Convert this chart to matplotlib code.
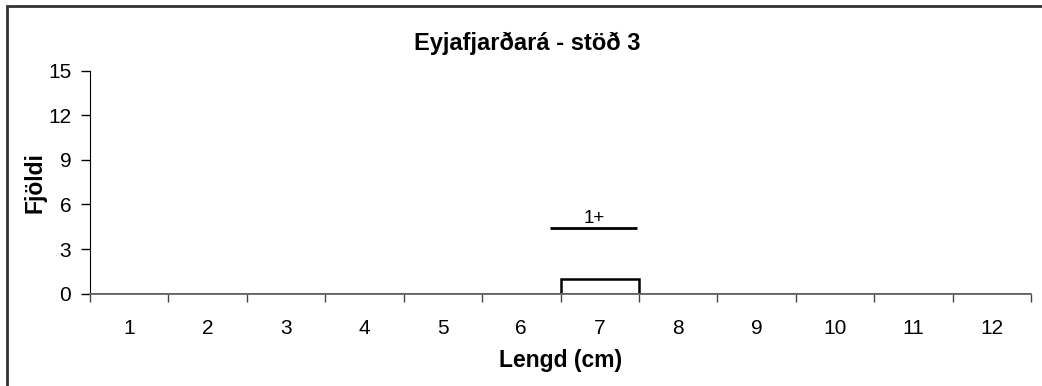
import matplotlib
matplotlib.use("Agg")
import matplotlib.pyplot as plt
from matplotlib.patches import Rectangle

plt.rcParams['font.family'] = ['Liberation Sans', 'DejaVu Sans']

# Length classes (cm) and fish counts
lengths = [1, 2, 3, 4, 5, 6, 7, 8, 9, 10, 11, 12]
counts = [0, 0, 0, 0, 0, 0, 1, 0, 0, 0, 0, 0]

# Age-group marker: span along the length axis and its height
age_label = "1+"
age_span = [6.37, 7.48]
age_level = 4.4

W, H = 1042, 386
fig = plt.figure(figsize=(W / 100, H / 100), dpi=100)
fig.patch.set_facecolor("white")

# Chart-area frame
fig.add_artist(Rectangle((6.5 / W, -0.05), 1.2, 1 - 5.5 / H + 0.05,
                         transform=fig.transFigure, fill=False,
                         edgecolor="#333333", linewidth=2.0))

left, right, top, bottom = 90, 1031, 70.7, 293.7
ax = fig.add_axes([left / W, 1 - bottom / H, (right - left) / W, (bottom - top) / H])

x = list(range(len(lengths)))
ax.bar(x, counts, width=1.0, facecolor="white", edgecolor="black", linewidth=1.8)

ax.set_xlim(-0.5, len(lengths) - 0.5)
ax.set_ylim(0, 15)
ax.set_yticks([0, 3, 6, 9, 12, 15])
ax.set_xticks(x)
ax.set_xticklabels([str(v) for v in lengths])

# Category boundary ticks on the x axis
ax.set_xticks([i - 0.5 for i in range(len(lengths) + 1)], minor=True)
ax.tick_params(axis="x", which="major", length=0, pad=18, labelsize=15)
ax.tick_params(axis="x", which="minor", length=6, width=1, color="#444444", direction="out")
ax.tick_params(axis="y", length=6.5, width=1, direction="out", labelsize=15, pad=7)

for s in ("top", "right"):
    ax.spines[s].set_visible(False)
ax.spines["left"].set_color("black")
ax.spines["bottom"].set_color("#666666")
ax.spines["bottom"].set_linewidth(1.3)

# Age-group line with label
lx = [v - lengths[0] for v in age_span]
ax.plot(lx, [age_level, age_level], color="black", linewidth=2.0, solid_capstyle="butt")
ax.text(sum(lx) / 2, age_level + 0.1, age_label, ha="center", va="bottom", fontsize=13.5)

ax.set_xlabel("Lengd (cm)", fontsize=16.5, fontweight="bold", labelpad=8)
ax.set_ylabel("Fjöldi", fontsize=16.5, fontweight="bold", labelpad=1)
fig.text(527 / W, 1 - 43 / H, "Eyjafjarðará - stöð 3", ha="center", va="center",
         fontsize=17, fontweight="bold")

fig.savefig("out.png", dpi=100, facecolor="white")
